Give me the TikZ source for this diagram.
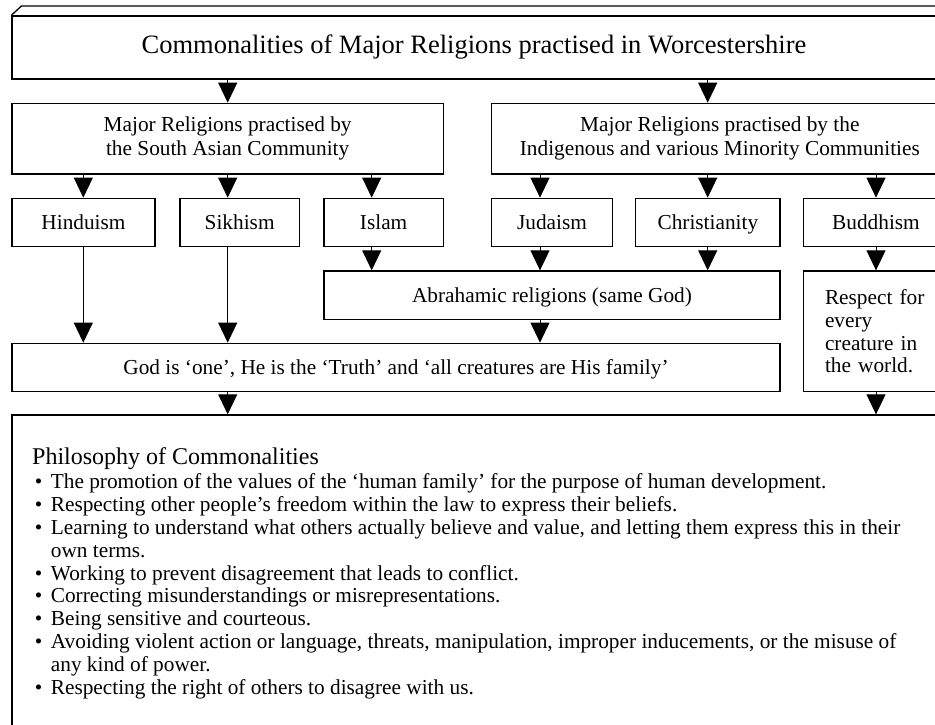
\documentclass[tikz,border=0pt]{standalone}
\usepackage{fontspec}
\setmainfont{Liberation Serif}
\usetikzlibrary{arrows.meta}
\newcommand{\bodysize}{\fontsize{21.3pt}{24.5pt}\selectfont}
\newcommand{\listsize}{\fontsize{21.3pt}{22.8pt}\selectfont}
\newcommand{\titlesize}{\fontsize{26.5pt}{30pt}\selectfont}
\newcommand{\headsize}{\fontsize{24pt}{26pt}\selectfont}
\newcommand{\bitem}{\makebox[18.7pt][l]{\hspace{2.6pt}\textbullet}}
\tikzset{
  relbox/.style  = {draw,line width=1.3pt,inner sep=0pt,align=center,font=\bodysize},
  oneline/.style = {text height=14.5pt,text depth=0pt},
  flowarr/.style = {-{Triangle[length=20pt,width=19pt]},line width=0.9pt}
}

\begin{document}
\begin{tikzpicture}[x=1pt,y=-1pt]
  \path[use as bounding box,clip] (0,0) rectangle (935,724);
  % columns of the arrows
  \foreach \i/\x in {1/83.3,2/227.7,3/371.7,4/540,5/707.7,6/876}
    \coordinate (c\i) at (\x,0);

  % title box with its top face
  \node[relbox,font=\titlesize,minimum width=924pt,minimum height=63pt] (title) at (474,47.5)
    {Commonalities of Major Religions practised in Worcestershire};
  \draw[line width=1.3pt] (title.north west) -- ++(10,-9.3) -- ++(940,0);
  \draw[line width=1.3pt] (title.north east) -- ++(10,-9.3) -- ++(0,63) -- (title.south east);

  % communities
  \node[relbox,minimum width=431.3pt,minimum height=70.7pt] (asian) at (227.65,138.65)
    {Major Religions practised by\\the South Asian Community};
  \node[relbox,minimum width=456.3pt,minimum height=70.7pt] (indig) at (719.85,138.65)
    {Major Religions practised by the\\Indigenous and various Minority Communities};

  % religions
  \foreach \nm/\cx/\w/\txt in {hindu/83.5/143/Hinduism,sikh/239.65/119.3/Sikhism,
      islam/383.65/119.3/Islam,juda/552/120.6/Judaism,chri/707.85/144.3/Christianity,
      budd/876/145.4/Buddhism}
    \node[relbox,oneline,minimum width=\w pt,minimum height=48.4pt] (\nm) at (\cx,222.5) {\txt};

  \node[relbox,oneline,minimum width=456pt,minimum height=48.3pt] (abra) at (552,295.15)
    {Abrahamic religions (same God)};
  \node[relbox,oneline,minimum width=768pt,minimum height=48.4pt] (god) at (396,367.5)
    {God is `one', He is the `Truth' and `all creatures are His family'};
  \node[relbox,align=left,font=\listsize,text width=102pt,inner xsep=21.7pt,minimum height=120.7pt] (resp) at (876,331.35)
    {Respect for\\every\\creature in\\the world.};

  % philosophy
  \node[relbox,minimum width=936pt,minimum height=325pt] (philo) at (480,577.5) {};
  \node[anchor=north west,inner sep=0pt,align=left,font=\listsize] (philtxt) at (32,447.5)
    {{\headsize Philosophy of Commonalities}\\[1.5pt]
     \bitem The promotion of the values of the `human family' for the purpose of human development.\\
     \bitem Respecting other people's freedom within the law to express their beliefs.\\
     \bitem Learning to understand what others actually believe and value, and letting them express this in their\\
     \hspace*{18.7pt}own terms.\\
     \bitem Working to prevent disagreement that leads to conflict.\\
     \bitem Correcting misunderstandings or misrepresentations.\\
     \bitem Being sensitive and courteous.\\
     \bitem Avoiding violent action or language, threats, manipulation, improper inducements, or the misuse of\\
     \hspace*{18.7pt}any kind of power.\\
     \bitem Respecting the right of others to disagree with us.};

  % connectors
  \foreach \a/\b/\c in {title/asian/c2,title/indig/c5,asian/hindu/c1,asian/sikh/c2,asian/islam/c3,
      indig/juda/c4,indig/chri/c5,indig/budd/c6,hindu/god/c1,sikh/god/c2,islam/abra/c3,
      juda/abra/c4,chri/abra/c5,budd/resp/c6,abra/god/c4,god/philo/c2,resp/philo/c6}
    \draw[flowarr] (\a.south -| \c) -- (\b.north -| \c);
\end{tikzpicture}
\end{document}
